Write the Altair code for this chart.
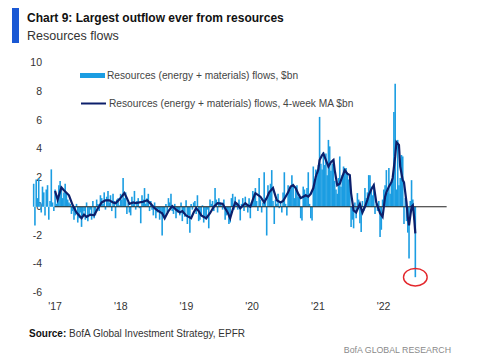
import altair as alt
import pandas as pd

# ---------------- data ----------------
start_week = "2016-09-07"
flows = [
    1.6, -1.3, 1.9, 0.6, 2.0, 0.3, -0.4, 1.4, 1.0, -0.6, 1.2, 1.5, -0.9, 0.4, 2.6, 0.3, -0.3,
    1.2, 0.2, 0.4, 1.5, 1.8, 1.4, 0.6, 1.0, 1.6, 0.9, 0.5, 0.3, 0.2, -0.5,
    -0.3, -0.9, -0.6, 0.2, -1.1, -0.8, -0.4, -1.4, -0.6, -0.3, -0.9, 0.3, -1.0, -0.5, -0.2, -0.9,
    0.4, -0.8, -0.6, 0.5, 0.2, -0.3, 0.8, 0.6,
    0.2, 1.0, -0.2, 0.7, 1.1, 0.3, 0.8, -0.3, 0.9, 0.4, -0.8, 0.5, 0.6, 0.1, 0.9, 0.5,
    2.0, 0.6, 1.0, -0.5, 0.3, -0.4,
    -0.6, 0.7, 0.2, 1.1, -0.2, 0.4, 0.6, -0.1, -1.15, 0.8, 0.5, 1.3, 0.2, 0.6, 0.9, -0.3, 0.4, -0.2, -0.6,
    0.3, -0.8, -0.4, -0.2, -0.9, -0.3, -2.0, -0.6, -0.7, 0.2, -0.4, 0.6, 0.3,
    0.9, -0.3, -0.5, 0.2, -0.8, -0.4, -0.3, -0.6, 0.3, -1.0, -0.5, -0.7, 0.45, -1.2, -0.6, -1.8, 0.2, -0.2,
    0.3, 0.4, -0.5, 0.8, -1.0, -0.9, -0.6, 0.1, -1.1, -0.7, -0.9, -0.2, -1.5, 0.5,
    0.2, 0.4, -0.3, 1.3, 0.5, -0.4, 0.6, 0.3, 0.1, -0.2, 0.5, -0.9, -0.6, -0.3, -1.2, -1.1, 0.6, 0.9, -0.2, 0.7,
    0.3, -0.2, 0.5, -0.95, 0.2, 0.6, -0.3, 0.7, 0.1, -0.4, 0.6, -0.8, 0.3, 1.1, 0.9,
    1.3, 0.4, -0.3, 2.0, 0.5, -0.4, 0.3, 2.4, 0.6, -2.0, 1.5, 1.0, 1.6, 2.55, 0.4, -1.2, 0.5, 0.2, 0.9, -0.1,
    0.3, -0.4, 1.0, 2.4, 0.2, -0.6, 1.5, 1.3, 1.2, 2.2, 1.6, 0.6, 1.4, 1.5, 0.7, 0.9, -0.8, -0.95, 1.4, 1.2, 0.9, 1.3,
    2.4, 0.2, -0.8, -0.95, 2.8, 1.9, 2.6, 2.2, 2.9,
    6.25, 3.0, 2.6, 3.8, 2.9, 3.7, 2.2, 4.65, 4.2, 2.5, 3.0, 3.3, 1.8, 1.2, 0.9, 2.0, 3.5, 1.4, 2.2, 2.8,
    2.5, 2.7, 2.3, 1.9, 2.0, -1.4,
    -0.9, -1.5, 0.3, -0.8, 0.95, 0.5, -1.15, -1.75, 0.4, -0.3, 1.3, 0.6, 1.0, 2.2,
    2.2, 1.4, 0.8, 1.6, -0.5, 0.2, -0.3, 0.4, -2.1, -1.6, 0.5, 1.2, 1.5,
    2.55, 1.0, 2.7, 0.9, 1.6, 1.8, 6.6, 8.55, 1.2, 4.65, 1.5, 2.0,
    3.6, 3.5, -1.2, 0.6, -1.0, -1.8, -3.6, 0.4, 1.85, 0.5, -0.9, -4.9,
]

# 4-week moving average, read at these week positions
ma_week = [17, 19, 22, 24, 28, 31, 34, 38, 40, 42, 45, 48, 51, 54, 57, 60, 63, 65, 68, 72, 74, 76,
           79, 81, 84, 87, 90, 93, 96, 99, 102, 104, 107, 110, 113, 116, 118, 121, 125, 127, 129,
           131, 133, 137, 140, 143, 146, 150, 152, 154, 156, 158, 160, 162, 164, 168, 170, 172, 174,
           176, 180, 183, 185, 187, 190, 193, 196, 198, 200, 202, 204, 206, 208, 210, 212, 214, 216,
           218, 220, 222, 224, 226, 227, 229, 230, 232, 234, 236, 238, 239, 241, 243, 244, 247, 249,
           251, 252, 254, 256, 258, 259, 261, 263, 265, 266, 268, 270, 272, 274, 275, 277, 279, 280,
           282, 284, 285, 287, 288, 290, 291, 293, 294, 296, 297, 298, 300, 301, 302, 303]
ma_value = [1.1, 0.5, 1.35, 1.15, 0.8, 0.1, -0.4, -0.8, -0.55, -0.7, -0.55, -0.6, -0.1, 0.3, 0.45, 0.45,
            0.3, 0.25, 0.5, 0.95, 0.6, 0.2, 0.3, 0.25, 0.3, 0.35, 0.45, 0.2, -0.1, -0.3, -0.45, -0.8,
            -0.3, 0.05, -0.2, -0.4, -0.3, -0.6, -0.8, -0.4, -0.1, -0.3, -0.6, -0.8, -0.45, 0.0, 0.25,
            0.2, -0.1, -0.4, -0.8, -0.2, 0.3, 0.15, -0.1, 0.25, 0.1, 0.0, 0.5, 0.95, 0.7, 0.3, 0.6,
            1.0, 1.3, 0.45, 0.3, 0.4, 0.7, 1.0, 1.4, 1.5, 1.3, 0.9, 0.6, 0.7, 0.8, 0.7, 0.9, 1.3, 2.1,
            2.6, 3.25, 3.6, 3.7, 3.25, 2.8, 3.1, 3.25, 2.55, 1.5, 1.6, 1.85, 2.55, 2.3, 2.2, 0.95,
            -0.25, -0.4, 0.0, 0.2, -0.4, 0.0, 0.5, 0.8, 1.2, 1.5, 0.3, -0.2, -0.45, -0.7, 0.7, 1.0,
            1.4, 1.7, 2.0, 3.5, 4.5, 4.3, 2.8, 1.85, 1.7, 0.3, -0.7, -1.3, 0.0, 0.1, -0.7, -1.85]

bar_label = "Resources (energy + materials) flows, $bn"
line_label = "Resources (energy + materials) flows, 4-week MA $bn"
year_ticks = ["2017-01-01", "2018-01-01", "2019-01-01", "2020-01-01", "2021-01-01", "2022-01-01"]
y_ticks = [10, 8, 6, 4, 2, 0, -2, -4, -6]
y_tick_labels = ["10", "8", "6", "4", "2", "0", "-2", "-4", "-6"]
x_domain = ["2016-08-12", "2022-12-22"]
zero_span = ["2017-01-01", "2022-12-20"]

title_text = "Chart 9: Largest outflow ever from resources"
subtitle_text = "Resources flows"
source_bold = "Source:"
source_text = "BofA Global Investment Strategy, EPFR"
brand_text = "BofA GLOBAL RESEARCH"

# ---------------- tables ----------------
weeks = pd.date_range(start_week, periods=len(flows), freq="7D")
df_bar = pd.DataFrame({"date": weeks.strftime("%Y-%m-%d"), "value": flows, "series": bar_label})
df_ma = pd.DataFrame({"date": weeks[ma_week].strftime("%Y-%m-%d"), "value": ma_value, "series": line_label})
df_last = df_bar.tail(1)
df_zero = pd.DataFrame({"start": [zero_span[0]], "end": [zero_span[1]], "y": [0]})
df_yt = pd.DataFrame({"v": y_ticks, "lab": y_tick_labels})
one = pd.DataFrame({"k": [0]})


def dt(s):
    y, m, d = (int(p) for p in s.split("-"))
    return alt.DateTime(year=y, month=m, date=d, utc=True)


FONT = "Liberation Sans, Arial, sans-serif"
LIGHT = "#1b9de2"
NAVY = "#0c1f6b"

xscale = alt.Scale(type="utc", domain=[dt(s) for s in x_domain])
yscale = alt.Scale(domain=[-6, 10], nice=False, zero=False)

xaxis = alt.Axis(values=[dt(s) for s in year_ticks], labelExpr="\"'\" + utcFormat(datum.value, '%y')",
                 domain=False, ticks=False, grid=False, labelPadding=8, title=None, labelOverlap=False,
                 labelFont=FONT, labelFontSize=10.5, labelColor="#333")

# y tick labels (drawn behind the bars, inside the plot as in the reference)
ylabels = alt.Chart(df_yt).mark_text(font=FONT, fontSize=10.5, color="#333", align="right",
                                     baseline="middle").encode(
    x=alt.value(18), y=alt.Y("v:Q", scale=yscale, axis=None), text="lab:N")

bars = alt.Chart(df_bar).mark_bar(width=1.6).encode(
    x=alt.X("date:T", scale=xscale, axis=xaxis),
    y=alt.Y("value:Q", scale=yscale, axis=None),
    fill=alt.Fill("series:N", scale=alt.Scale(range=[LIGHT]),
                  legend=alt.Legend(title=None, orient="none", legendX=56, legendY=0, padding=0,
                                    symbolType="M-1,-0.2L1,-0.2L1,0.2L-1,0.2Z", symbolSize=625,
                                    symbolStrokeWidth=0, labelFont=FONT, labelFontSize=10.2,
                                    labelColor="#444", labelOffset=2, labelLimit=400)),
)

zero = alt.Chart(df_zero).mark_rule(color="#222", strokeWidth=1.2).encode(
    x="start:T", x2="end:T", y=alt.Y("y:Q", axis=None))

line = alt.Chart(df_ma).mark_line(strokeWidth=2.2).encode(
    x="date:T", y=alt.Y("value:Q", axis=None),
    stroke=alt.Stroke("series:N", scale=alt.Scale(range=[NAVY]),
                      legend=alt.Legend(title=None, orient="none", legendX=56, legendY=27, padding=0,
                                        symbolType="stroke", symbolSize=625, symbolStrokeWidth=2,
                                        labelFont=FONT, labelFontSize=10.2, labelColor="#444",
                                        labelOffset=2, labelLimit=400)),
)

circle = alt.Chart(df_last).mark_point(
    shape="M-1,0A1,0.74,0,1,0,1,0A1,0.74,0,1,0,-1,0Z", size=560, filled=False,
    color="#e3262b", strokeWidth=1.4, opacity=1).encode(x="date:T", y=alt.Y("value:Q", axis=None))

blue_bar = alt.Chart(one).mark_rect(color="#1a58d4").encode(
    x=alt.value(-12), x2=alt.value(-5), y=alt.value(-57), y2=alt.value(-20))
title = alt.Chart(one).mark_text(text=title_text, font=FONT, fontSize=12, fontWeight="bold",
                                 align="left", baseline="alphabetic", color="#111").encode(
    x=alt.value(3), y=alt.value(-41))
subtitle = alt.Chart(one).mark_text(text=subtitle_text, font=FONT, fontSize=12.5,
                                    align="left", baseline="alphabetic", color="#333").encode(
    x=alt.value(3), y=alt.value(-23))
src1 = alt.Chart(one).mark_text(text=source_bold, font=FONT, fontSize=10, fontWeight="bold",
                                align="left", baseline="alphabetic", color="#111").encode(
    x=alt.value(5), y=alt.value(274))
src2 = alt.Chart(one).mark_text(text=source_text, font=FONT, fontSize=10,
                                align="left", baseline="alphabetic", color="#333").encode(
    x=alt.value(45), y=alt.value(274))
brand = alt.Chart(one).mark_text(text=brand_text, font=FONT, fontSize=8.8,
                                 align="right", baseline="alphabetic", color="#8a8a8a").encode(
    x=alt.value(427), y=alt.value(290))

chart = alt.layer(ylabels, bars, zero, line, circle, blue_bar, title, subtitle, src1, src2, brand).resolve_legend(
    fill="independent", stroke="independent"
).properties(
    width=428, height=230,
    autosize=alt.AutoSizeParams(type="none"),
    padding={"left": 16, "top": 55, "right": 20, "bottom": 64},
    background="white",
).configure_view(stroke=None)

chart.save("out.html", embed_options={"renderer": "svg", "actions": False})
